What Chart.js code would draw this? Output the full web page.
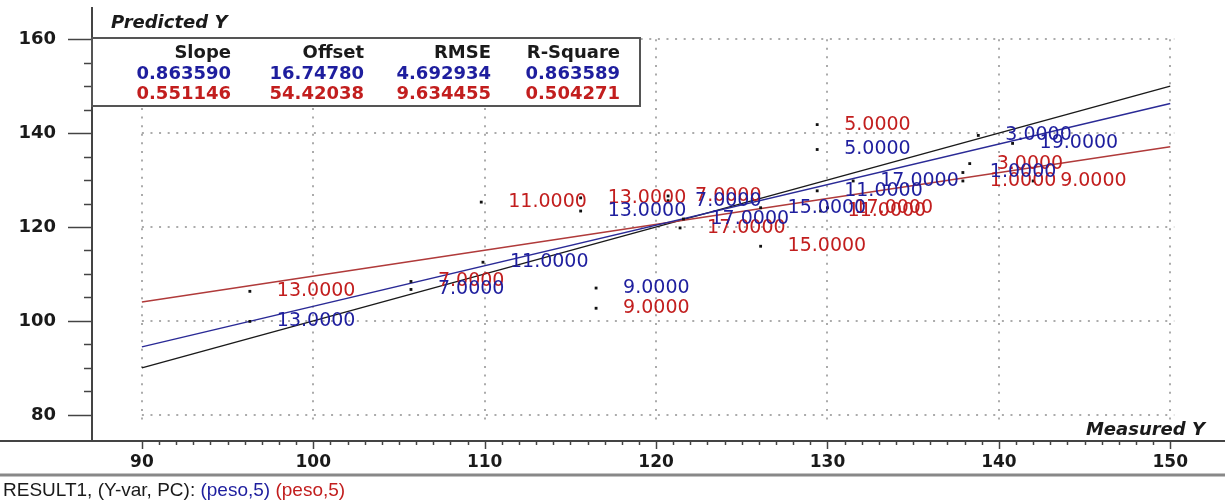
<!DOCTYPE html>
<html>
<head>
<meta charset="utf-8">
<script src="https://cdn.jsdelivr.net/npm/chart.js@4.4.1/dist/chart.umd.min.js"></script>
<style>
  html, body { margin: 0; padding: 0; background: #fff; }
  #wrap { width: 1225px; height: 501px; }
</style>
</head>
<body>
<div id="wrap"><canvas id="myChart" width="1225" height="501"></canvas></div>
<script>
// measured / predicted pairs, blue model
const blueMeasured  = [96.3, 105.7, 109.9, 116.5, 115.6, 120.7, 121.6, 126.1, 129.4, 129.4, 131.5, 138.8, 140.8, 137.9];
const bluePredicted = [99.9, 106.7, 112.5, 107.0, 123.4, 125.6, 121.7, 124.1, 127.7, 136.5, 129.8, 139.5, 137.8, 131.6];
const blueSamples   = ['13.0000', '7.0000', '11.0000', '9.0000', '13.0000', '7.0000', '17.0000', '15.0000', '11.0000', '5.0000', '17.0000', '3.0000', '19.0000', '1.0000'];

// measured / predicted pairs, red model
const redMeasured  = [96.3, 105.7, 109.8, 116.5, 115.6, 120.7, 121.4, 126.1, 129.4, 129.6, 130.0, 138.3, 137.9, 142.0];
const redPredicted = [106.3, 108.4, 125.3, 102.7, 126.2, 126.6, 119.8, 115.9, 141.8, 123.4, 124.1, 133.5, 129.8, 129.8];
const redSamples   = ['13.0000', '7.0000', '11.0000', '9.0000', '13.0000', '7.0000', '17.0000', '15.0000', '5.0000', '11.0000', '17.0000', '3.0000', '1.0000', '9.0000'];

// fit statistics
const statHeaders = ['Slope', 'Offset', 'RMSE', 'R-Square'];
const blueStats = ['0.863590', '16.74780', '4.692934', '0.863589'];
const redStats  = ['0.551146', '54.42038', '9.634455', '0.504271'];

// axes
const xTicks = [90, 100, 110, 120, 130, 140, 150];
const yTicks = [80, 100, 120, 140, 160];
const lineEnds = [90, 150];

const BLUE = '#1e1e9e';
const RED = '#c21e1e';

const fitLine = (slope, offset) => lineEnds.map(x => ({ x: x, y: slope * x + offset }));
const pairs = (xs, ys) => xs.map((x, i) => ({ x: x, y: ys[i] }));

const FONT = '"DejaVu Sans", sans-serif';

function seg(ctx, x1, y1, x2, y2) {
  ctx.beginPath();
  ctx.moveTo(x1, y1);
  ctx.lineTo(x2, y2);
  ctx.stroke();
}

const frame = {
  id: 'frame',
  beforeDatasetsDraw(chart) {
    const ctx = chart.ctx;
    const xs = chart.scales.x, ys = chart.scales.y;
    const xL = xs.getPixelForValue(xTicks[0]), xR = xs.getPixelForValue(xTicks[xTicks.length - 1]);
    const yB = ys.getPixelForValue(yTicks[0]), yT = ys.getPixelForValue(yTicks[yTicks.length - 1]);
    ctx.save();

    // dotted grid
    ctx.strokeStyle = '#ababab';
    ctx.lineWidth = 2;
    ctx.setLineDash([2, 6.6]);
    xTicks.forEach(v => {
      const px = Math.round(xs.getPixelForValue(v));
      seg(ctx, px, yT, px, yB + 8);
    });
    yTicks.forEach(v => {
      const py = Math.round(ys.getPixelForValue(v));
      seg(ctx, xL, py, xR + 4, py);
    });
    ctx.setLineDash([]);

    // axis lines
    const axisY = 441, axisX = 92;
    ctx.strokeStyle = '#444';
    ctx.lineWidth = 2;
    seg(ctx, 0, axisY, 1225, axisY);
    seg(ctx, axisX, 7, axisX, axisY);

    // x ticks, minor every unit
    ctx.lineWidth = 1.5;
    for (let v = xTicks[0]; v <= xTicks[xTicks.length - 1]; v++) {
      const px = Math.round(xs.getPixelForValue(v)) + 0.5;
      seg(ctx, px, axisY, px, axisY + (v % 10 === 0 ? 8 : 4));
    }
    // y ticks, minor every 5
    for (let v = yTicks[0]; v <= yTicks[yTicks.length - 1]; v += 5) {
      const py = Math.round(ys.getPixelForValue(v)) + 0.5;
      seg(ctx, axisX, py, axisX - (v % 20 === 0 ? 24 : 8), py);
    }

    // tick labels
    ctx.fillStyle = '#1a1a1a';
    ctx.font = 'bold 17px ' + FONT;
    ctx.textAlign = 'center';
    ctx.textBaseline = 'middle';
    xTicks.forEach(v => ctx.fillText(String(v), xs.getPixelForValue(v), 463));
    ctx.textAlign = 'right';
    ctx.font = 'bold 18px ' + FONT;
    yTicks.forEach(v => ctx.fillText(String(v), 56, ys.getPixelForValue(v)));

    // axis titles
    ctx.font = 'italic bold 18px ' + FONT;
    ctx.textAlign = 'right';
    ctx.fillText('Measured Y', 1205, 430);
    ctx.textAlign = 'left';
    ctx.fillText('Predicted Y', 111, 23);
    ctx.restore();
  },
  afterDatasetsDraw(chart) {
    const ctx = chart.ctx;
    ctx.save();

    // sample labels beside each point
    ctx.font = '19px ' + FONT;
    ctx.textAlign = 'left';
    ctx.textBaseline = 'middle';
    [[3, redSamples, RED], [2, blueSamples, BLUE]].forEach(([idx, names, col]) => {
      ctx.fillStyle = col;
      chart.getDatasetMeta(idx).data.forEach((pt, i) => {
        ctx.fillText(names[i], pt.x + 27, pt.y);
      });
    });

    // statistics box
    const bx = 92, by = 38, bw = 548, bh = 68;
    ctx.fillStyle = '#fff';
    ctx.fillRect(bx, by, bw, bh);
    ctx.strokeStyle = '#555';
    ctx.lineWidth = 2;
    ctx.strokeRect(bx, by, bw, bh);
    const colRight = [231, 364, 491, 620];
    ctx.textAlign = 'right';
    ctx.font = 'bold 18px ' + FONT;
    ctx.fillStyle = '#1a1a1a';
    statHeaders.forEach((t, i) => ctx.fillText(t, colRight[i], 53));
    ctx.fillStyle = BLUE;
    blueStats.forEach((t, i) => ctx.fillText(t, colRight[i], 74));
    ctx.fillStyle = RED;
    redStats.forEach((t, i) => ctx.fillText(t, colRight[i], 94));

    // bottom caption
    ctx.strokeStyle = '#888';
    ctx.lineWidth = 3;
    seg(ctx, 0, 475, 1225, 475);
    ctx.font = '19px "Liberation Sans", sans-serif';
    ctx.textAlign = 'left';
    let x = 3;
    [['RESULT1, (Y-var, PC): ', '#1a1a1a'], ['(peso,5)', BLUE], [' (peso,5)', RED]].forEach(([t, c]) => {
      ctx.fillStyle = c;
      ctx.fillText(t, x, 491);
      x += ctx.measureText(t).width;
    });
    ctx.restore();
  }
};

const config = {
  type: 'scatter',
  data: {
    datasets: [
      { type: 'line', data: fitLine(1, 0), borderColor: '#1a1a1a', borderWidth: 1.5, pointRadius: 0, order: 3 },
      { type: 'line', data: fitLine(parseFloat(blueStats[0]), parseFloat(blueStats[1])), borderColor: '#2a2a96', borderWidth: 1.5, pointRadius: 0, order: 2 },
      { data: pairs(blueMeasured, bluePredicted), backgroundColor: '#111', borderWidth: 0, pointRadius: 2, pointStyle: 'rect', order: 1 },
      { data: pairs(redMeasured, redPredicted), backgroundColor: '#111', borderWidth: 0, pointRadius: 2, pointStyle: 'rect', order: 1 },
      { type: 'line', data: fitLine(parseFloat(redStats[0]), parseFloat(redStats[1])), borderColor: '#b03a3a', borderWidth: 1.5, pointRadius: 0, order: 2 }
    ]
  },
  options: {
    responsive: false,
    devicePixelRatio: 1,
    animation: false,
    layout: { padding: { left: 92, right: 0, top: 8, bottom: 59 } },
    plugins: { legend: { display: false }, tooltip: { enabled: false } },
    scales: {
      x: { type: 'linear', display: false, min: 87.09, max: 152.96 },
      y: { type: 'linear', display: false, min: 74.22, max: 166.63 }
    }
  },
  plugins: [frame]
};

const myChart = new Chart(document.getElementById('myChart'), config);
</script>
</body>
</html>
